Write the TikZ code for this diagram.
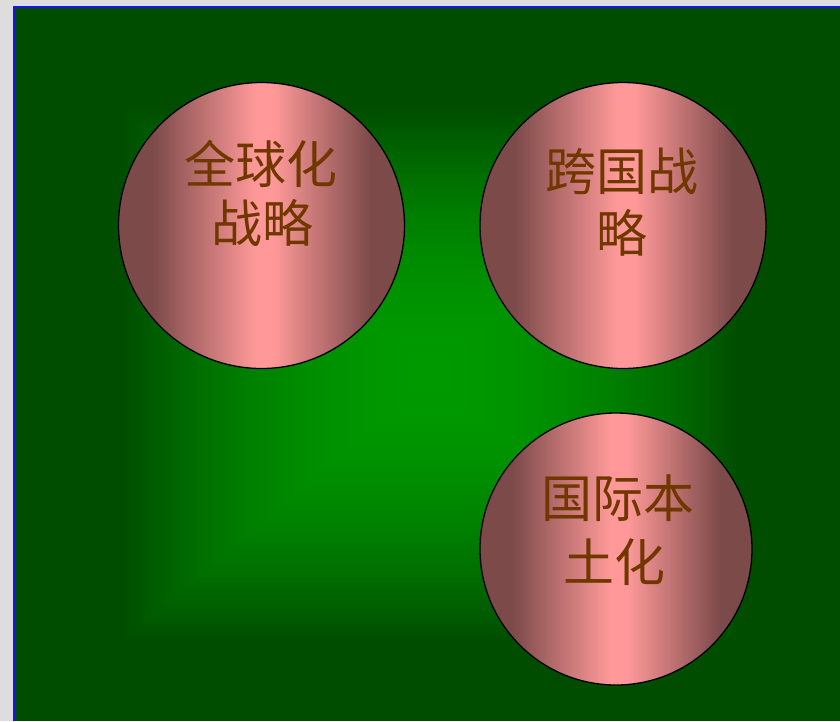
\documentclass[tikz,border=0pt]{standalone}
\usepackage{fontspec}
\newfontfamily\cjk{Noto Sans CJK SC}
\definecolor{bgGray}{RGB}{221,221,221}
\definecolor{darkG}{RGB}{0,77,0}
\definecolor{brightG}{RGB}{0,153,0}
\definecolor{edgeBlue}{RGB}{20,20,235}
\definecolor{pinkEdge}{RGB}{125,74,74}
\definecolor{pinkMid}{RGB}{255,153,153}
\definecolor{txtBrown}{RGB}{112,56,0}
\pgfdeclarehorizontalshading{pinkshade}{100bp}{color(0bp)=(pinkEdge); color(31bp)=(pinkEdge); color(49bp)=(pinkMid); color(52bp)=(pinkMid); color(69bp)=(pinkEdge); color(100bp)=(pinkEdge)}
\tikzset{
  ball/.style={circle, draw=black, line width=1.3pt, inner sep=0pt, shading=pinkshade},
  hanzi/.style={anchor=base, text=txtBrown, inner sep=0pt, font=\cjk\fontsize{51}{51}\selectfont}
}
\begin{document}
\begin{tikzpicture}[x=1pt,y=-1pt]
\useasboundingbox (0,0) rectangle (840,721);
\fill[bgGray] (0,0) rectangle (840,721);
\fill[darkG] (14,7) rectangle (840,721);
\foreach \i in {0,...,89}{
  \pgfmathsetmacro\f{1-\i/90}
  \pgfmathsetmacro\p{100*(1-\f*\f)}
  \pgfmathsetmacro\xa{430-310*\f}
  \pgfmathsetmacro\xb{430+310*\f}
  \pgfmathsetmacro\ya{375-268*\f}
  \pgfmathsetmacro\yb{375+268*\f}
  \fill[brightG!\p!darkG] (\xa,\ya) rectangle (\xb,\yb);
}
\draw[edgeBlue, line width=2.5pt] (14,721) -- (14,7) -- (840,7);

\node[ball, minimum size=286pt] (c1) at (261.5,225.5) {};
\node[ball, minimum size=286pt] (c2) at (623,225.5) {};
\node[ball, minimum size=272pt] (c3) at (616,549) {};

\node[hanzi] (t1a) at (261,183) {全球化};
\node[hanzi] (t1b) at (262,242) {战略};
\node[hanzi] (t2a) at (622,190) {跨国战};
\node[hanzi] (t2b) at (622,252) {略};
\node[hanzi] (t3a) at (618,517) {国际本};
\node[hanzi] (t3b) at (614,581) {土化};
\end{tikzpicture}
\end{document}
